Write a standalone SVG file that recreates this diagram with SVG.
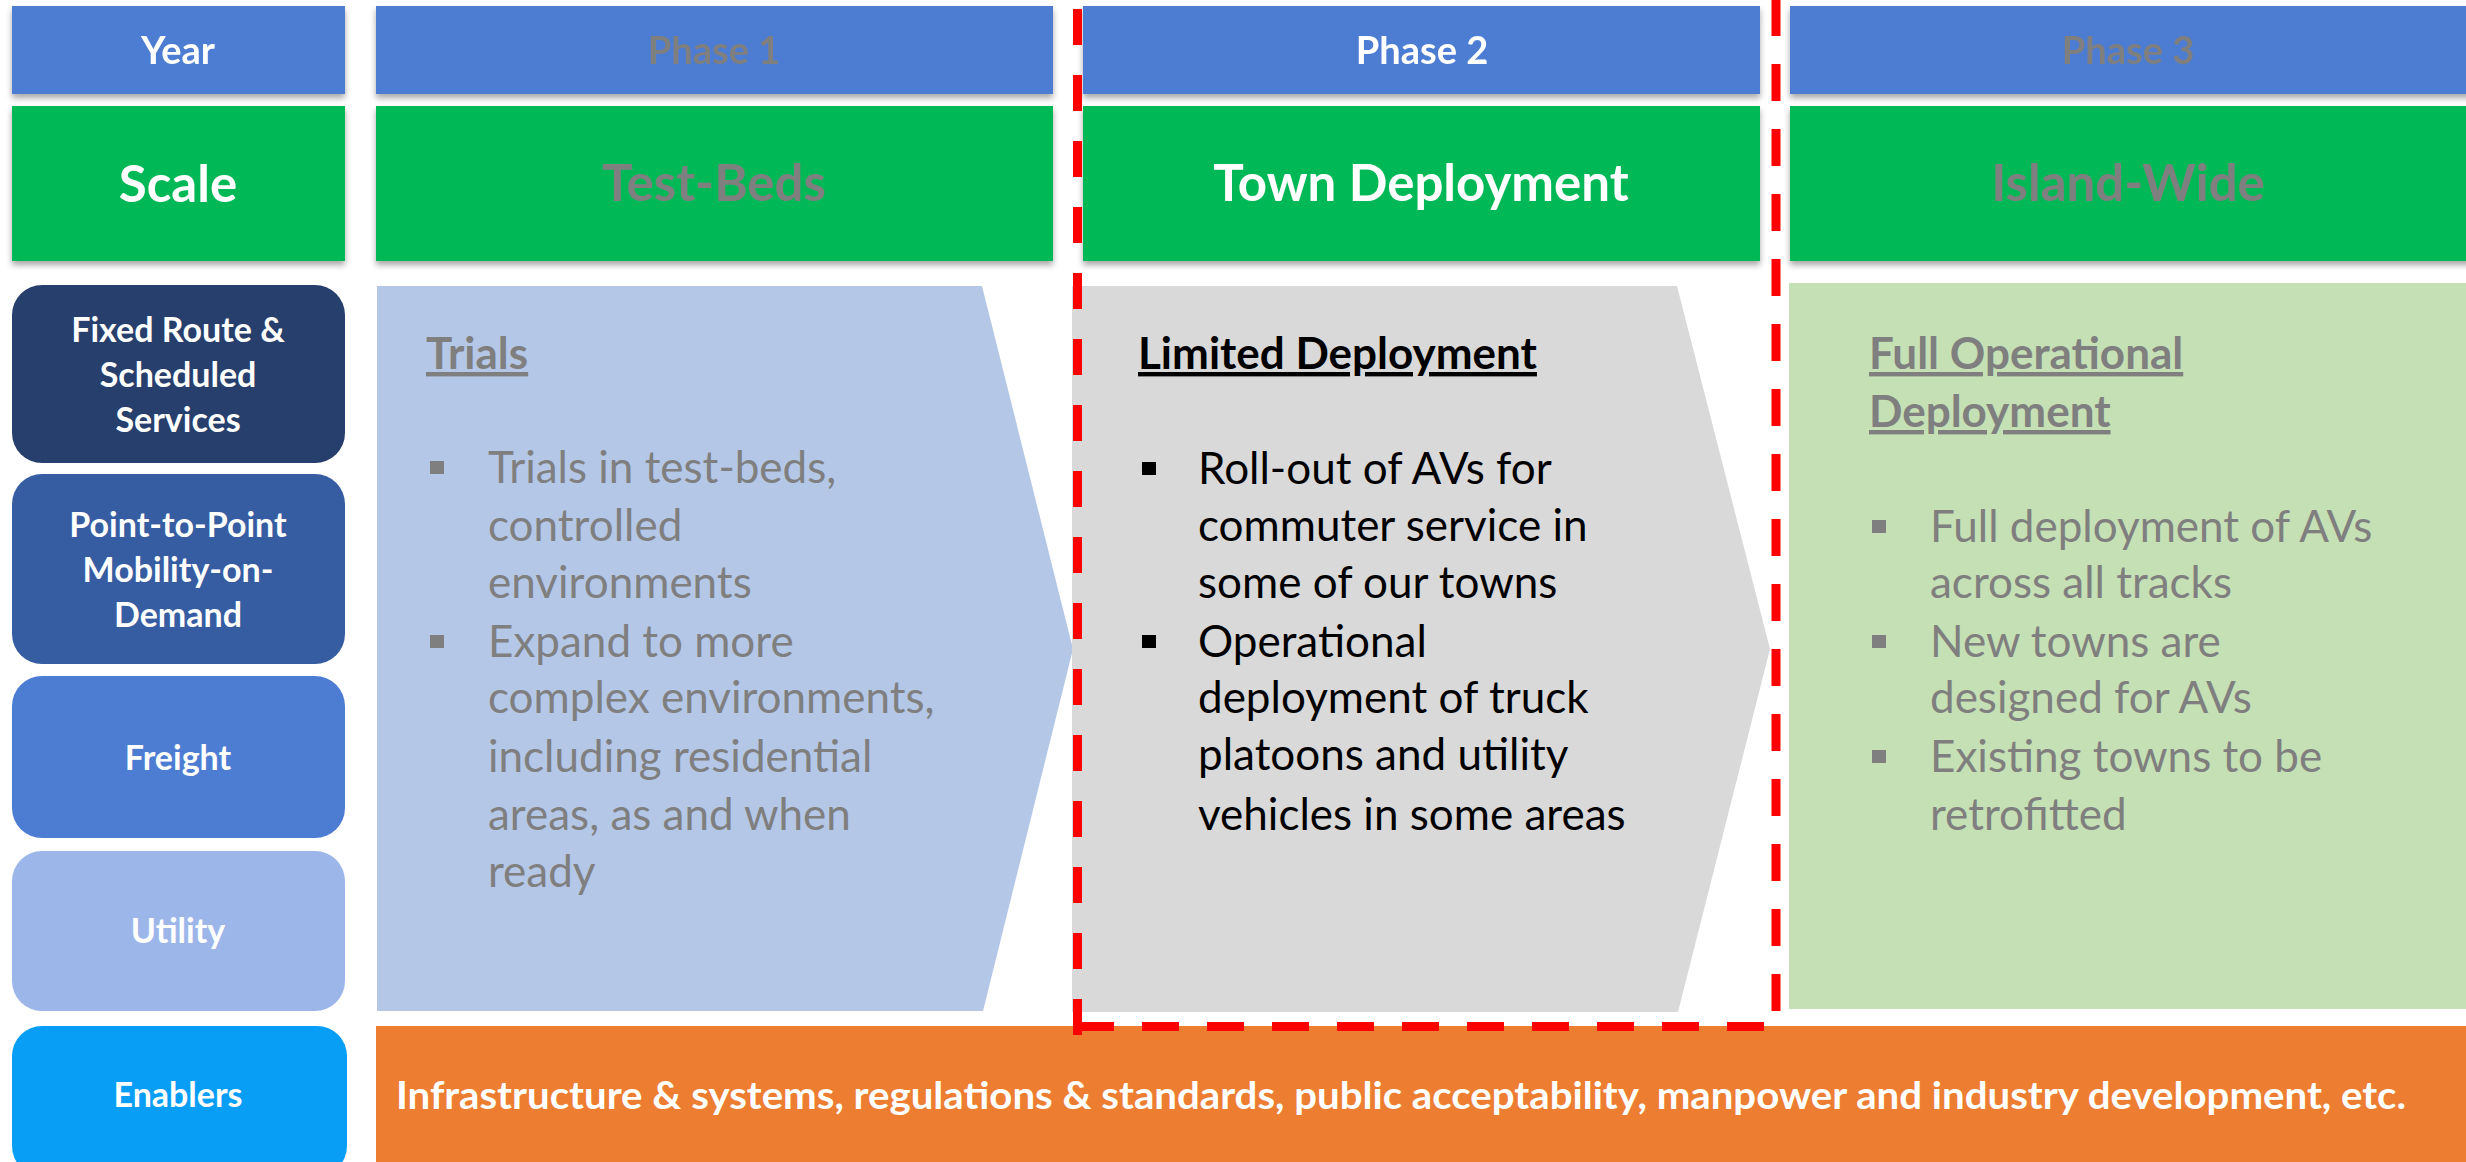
<svg xmlns="http://www.w3.org/2000/svg" width="2466" height="1162" viewBox="0 0 2466 1162">
  <defs>
    <filter id="shadow" x="-5%" y="-10%" width="110%" height="130%">
      <feDropShadow dx="0" dy="4" stdDeviation="3" flood-color="#000" flood-opacity="0.35"/>
    </filter>
    <style>
      text { font-family: Lato, "Open Sans", "Liberation Sans", sans-serif; }
      .hdr { font-weight: bold; font-size: 38px; text-anchor: middle; }
      .scale { font-weight: bold; font-size: 51px; text-anchor: middle; }
      .row { font-weight: bold; font-size: 34px; fill: #fff; text-anchor: middle; }
      .white { fill: #fff; }
      .dim { fill: #7f7f7f; }
      .dark { fill: #000; }
      .head { font-weight: bold; font-size: 44px; text-decoration: underline; }
      .body { font-size: 44px; }
      .dash { fill: none; stroke: #ff0000; stroke-width: 9; }
    </style>
  </defs>
  <rect width="2466" height="1162" fill="#fff"/>

  <!-- header: year row -->
  <g id="year" filter="url(#shadow)">
    <rect x="12" y="6" width="333" height="88" fill="#4d7dd2"/>
    <text class="hdr white" x="178" y="64">Year</text>
  </g>
  <g id="phase1" filter="url(#shadow)">
    <rect x="376" y="6" width="677" height="88" fill="#4d7dd2"/>
    <text class="hdr dim" x="714" y="64">Phase 1</text>
  </g>
  <g id="phase2" filter="url(#shadow)">
    <rect x="1083" y="6" width="677" height="88" fill="#4d7dd2"/>
    <text class="hdr white" x="1422" y="64">Phase 2</text>
  </g>
  <g id="phase3" filter="url(#shadow)">
    <rect x="1790" y="6" width="690" height="88" fill="#4d7dd2"/>
    <text class="hdr dim" x="2128" y="64">Phase 3</text>
  </g>

  <!-- header: scale row -->
  <g id="scale" filter="url(#shadow)">
    <rect x="12" y="106" width="333" height="155" fill="#06b956"/>
    <text class="scale white" x="178" y="202">Scale</text>
  </g>
  <g id="test-beds" filter="url(#shadow)">
    <rect x="376" y="106" width="677" height="155" fill="#06b956"/>
    <text class="scale dim" x="714" y="201">Test-Beds</text>
  </g>
  <g id="town-deployment" filter="url(#shadow)">
    <rect x="1083" y="106" width="677" height="155" fill="#06b956"/>
    <text class="scale white" x="1421" y="201">Town Deployment</text>
  </g>
  <g id="island-wide" filter="url(#shadow)">
    <rect x="1790" y="106" width="690" height="155" fill="#06b956"/>
    <text class="scale dim" x="2128" y="201">Island-Wide</text>
  </g>

  <!-- service categories -->
  <g id="fixed-route">
    <rect x="12" y="285" width="333" height="178" rx="30" fill="#273f6c"/>
    <text class="row" x="178" y="342">Fixed Route &amp;</text>
    <text class="row" x="178" y="387">Scheduled</text>
    <text class="row" x="178" y="432">Services</text>
  </g>
  <g id="point-to-point">
    <rect x="12" y="474" width="333" height="190" rx="30" fill="#365da2"/>
    <text class="row" x="178" y="537">Point-to-Point</text>
    <text class="row" x="178" y="582">Mobility-on-</text>
    <text class="row" x="178" y="627">Demand</text>
  </g>
  <g id="freight">
    <rect x="12" y="676" width="333" height="162" rx="30" fill="#4d7dd2"/>
    <text class="row" x="178" y="770">Freight</text>
  </g>
  <g id="utility">
    <rect x="12" y="851" width="333" height="160" rx="30" fill="#9cb6ea"/>
    <text class="row" x="178" y="943">Utility</text>
  </g>
  <g id="enablers">
    <rect x="12" y="1026" width="335" height="150" rx="30" fill="#099ef6"/>
    <text class="row" x="178" y="1107">Enablers</text>
  </g>

  <!-- phase 1: trials -->
  <g id="trials">
    <polygon points="377,286 982,286 1073,649 983,1011 377,1011" fill="#b4c7e7"/>
    <text class="head dim" x="426" y="369">Trials</text>
    <g class="dim">
      <rect x="430" y="461" width="14" height="13"/>
      <rect x="430" y="635" width="14" height="13"/>
    </g>
    <g class="body dim">
      <text x="488" y="483">Trials in test-beds,</text>
      <text x="488" y="541">controlled</text>
      <text x="488" y="598">environments</text>
      <text x="488" y="657">Expand to more</text>
      <text x="488" y="713">complex environments,</text>
      <text x="488" y="772">including residential</text>
      <text x="488" y="830">areas, as and when</text>
      <text x="488" y="887">ready</text>
    </g>
  </g>

  <!-- phase 2: limited deployment -->
  <g id="limited-deployment">
    <polygon points="1072,286 1677,286 1770,649 1678,1012 1072,1012" fill="#d9d9d9"/>
    <text class="head dark" x="1138" y="369">Limited Deployment</text>
    <g class="dark">
      <rect x="1142" y="462" width="14" height="13"/>
      <rect x="1142" y="635" width="14" height="13"/>
    </g>
    <g class="body dark">
      <text x="1198" y="484">Roll-out of AVs for</text>
      <text x="1198" y="541">commuter service in</text>
      <text x="1198" y="598">some of our towns</text>
      <text x="1198" y="657">Operational</text>
      <text x="1198" y="713">deployment of truck</text>
      <text x="1198" y="770">platoons and utility</text>
      <text x="1198" y="830">vehicles in some areas</text>
    </g>
  </g>

  <!-- phase 3: full operational deployment -->
  <g id="full-deployment">
    <rect x="1789" y="283" width="690" height="726" fill="#c5e0b4"/>
    <text class="head dim" x="1869" y="369">Full Operational</text>
    <text class="head dim" x="1869" y="427">Deployment</text>
    <g class="dim">
      <rect x="1872" y="520" width="14" height="13"/>
      <rect x="1872" y="635" width="14" height="13"/>
      <rect x="1872" y="750" width="14" height="13"/>
    </g>
    <g class="body dim">
      <text x="1930" y="542">Full deployment of AVs</text>
      <text x="1930" y="598">across all tracks</text>
      <text x="1930" y="657">New towns are</text>
      <text x="1930" y="713">designed for AVs</text>
      <text x="1930" y="772">Existing towns to be</text>
      <text x="1930" y="830">retrofitted</text>
    </g>
  </g>

  <!-- enablers banner -->
  <g id="enablers-bar">
    <rect x="376" y="1026" width="2100" height="140" fill="#ed7d31"/>
    <text class="white" x="396" y="1109" font-size="38" font-weight="bold" textLength="2010" lengthAdjust="spacingAndGlyphs">Infrastructure &amp; systems, regulations &amp; standards, public acceptability, manpower and industry development, etc.</text>
  </g>

  <!-- current-phase highlight frame -->
  <g id="connectors">
    <path class="dash" d="M1077.5,1035 V-30" stroke-dasharray="36 30"/>
    <path class="dash" d="M1077,1026.5 H1776" stroke-dasharray="37 28"/>
    <path class="dash" d="M1776,-1 V1011" stroke-dasharray="37 28"/>
  </g>
</svg>
